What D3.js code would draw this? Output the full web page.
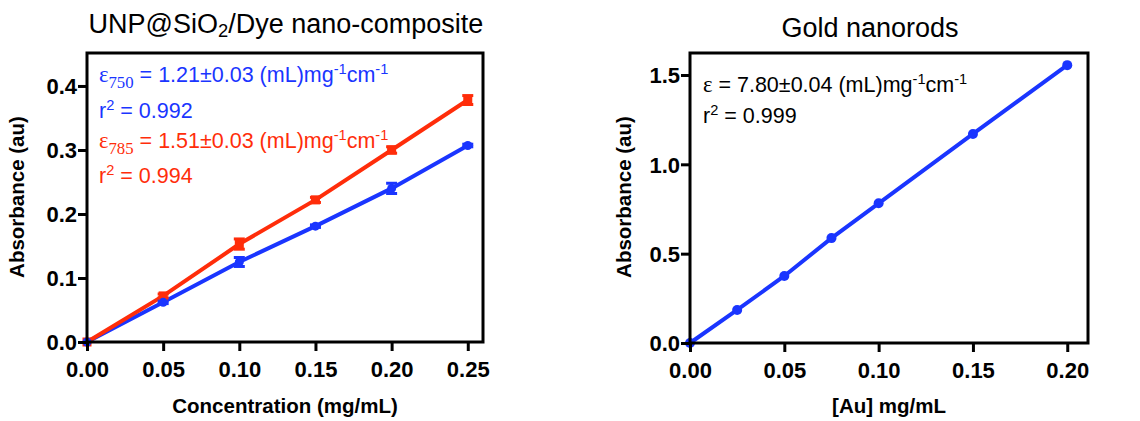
<!DOCTYPE html>
<html>
<head>
<meta charset="utf-8">
<script src="https://cdn.jsdelivr.net/npm/d3@7"></script>
<style>
  body { margin: 0; background: #fff; }
  svg { font-family: "Liberation Sans", Arial, sans-serif; }
</style>
</head>
<body>
<svg id="chart" width="1140" height="421"></svg>
<script>
// left panel data
let concX = [0, 0.05, 0.10, 0.15, 0.20, 0.25];
let abs750 = [0, 0.062, 0.125, 0.181, 0.240, 0.307];
let err750 = [0, 0.002, 0.007, 0.002, 0.008, 0.002];
let abs785 = [0, 0.072, 0.153, 0.222, 0.300, 0.378];
let err785 = [0, 0.003, 0.008, 0.004, 0.005, 0.007];
let leftXTicks = [0, 0.05, 0.10, 0.15, 0.20, 0.25];
let leftYTicks = [0, 0.1, 0.2, 0.3, 0.4];

// right panel data
let auX = [0, 0.025, 0.05, 0.075, 0.10, 0.15, 0.20];
let auAbs = [0, 0.185, 0.375, 0.587, 0.782, 1.170, 1.555];
let rightXTicks = [0, 0.05, 0.10, 0.15, 0.20];
let rightYTicks = [0, 0.5, 1.0, 1.5];

let blue = "#1a35ff";
let red = "#ff2d0a";

let svg = d3.select("#chart");

function drawFrame(g, x, y, xTicks, yTicks, xFmt, yFmt) {
    let [x0, x1] = x.range();
    let [y0, y1] = y.range();

    //x axis
    g.append("g")
        .attr("transform", "translate(0," + y0 + ")")
        .call(d3.axisBottom(x).tickValues(xTicks).tickFormat(xFmt).tickSize(9).tickSizeOuter(0))
        .call(a => a.select(".domain").remove())
        .call(a => a.selectAll("line").attr("stroke-width", 3))
        .call(a => a.selectAll("text").attr("dy", "1.05em").style("font-size", "22px").style("font-weight", "bold").attr("fill", "#000").attr("font-family", null));

    //y axis
    g.append("g")
        .attr("transform", "translate(" + x0 + ",0)")
        .call(d3.axisLeft(y).tickValues(yTicks).tickFormat(yFmt).tickSize(9).tickSizeOuter(0))
        .call(a => a.select(".domain").remove())
        .call(a => a.selectAll("line").attr("stroke-width", 3))
        .call(a => a.selectAll("text").attr("x", -10).attr("dy", "0.36em").style("font-size", "22px").style("font-weight", "bold").attr("fill", "#000").attr("font-family", null));

    g.append("rect")
        .attr("x", x0).attr("y", y1)
        .attr("width", x1 - x0).attr("height", y0 - y1)
        .attr("fill", "none").attr("stroke", "#000").attr("stroke-width", 3);
}

function superText(t, parts, size) {
    // parts: [text, kind] kind: n normal, sub, sup, serif, serifsub
    let cur = 0;
    for (let [s, kind] of parts) {
        let ts = t.append("tspan").text(s).style("font-size", size + "px");
        let shift = 0;
        if (kind == "sup") { shift = -8; ts.style("font-size", (size * 0.68) + "px"); }
        else if (kind == "sub") { shift = 4; ts.style("font-size", (size * 0.68) + "px"); }
        else if (kind == "serif") { ts.attr("font-family", "Liberation Serif, Times New Roman, serif").style("font-size", (size * 1.05) + "px"); }
        else if (kind == "serifsub") { shift = 6; ts.attr("font-family", "Liberation Serif, Times New Roman, serif").style("font-size", (size * 0.78) + "px"); }
        ts.attr("dy", shift - cur);
        cur = shift;
    }
}

// ---------- left panel ----------
let xL = d3.scaleLinear().domain([0, 0.26]).range([87, 483]);
let yL = d3.scaleLinear().domain([0, 0.4515]).range([342, 53]);
let gL = svg.append("g");

let lineL = d3.line().x((d, i) => xL(concX[i])).y(d => yL(d));

gL.append("path").datum(abs750)
    .attr("d", lineL).attr("fill", "none").attr("stroke", blue).attr("stroke-width", 4);
gL.append("path").datum(abs785)
    .attr("d", lineL).attr("fill", "none").attr("stroke", red).attr("stroke-width", 4);

// error bars
function errorBars(g, xs, ys, es, x, y, color) {
    let eb = g.append("g").attr("stroke", color).attr("stroke-width", 3);
    xs.forEach((xv, i) => {
        if (es[i] <= 0) return;
        let cx = x(xv);
        eb.append("line").attr("x1", cx).attr("x2", cx).attr("y1", y(ys[i] - es[i])).attr("y2", y(ys[i] + es[i]));
        eb.append("line").attr("x1", cx - 5.5).attr("x2", cx + 5.5).attr("y1", y(ys[i] - es[i])).attr("y2", y(ys[i] - es[i]));
        eb.append("line").attr("x1", cx - 5.5).attr("x2", cx + 5.5).attr("y1", y(ys[i] + es[i])).attr("y2", y(ys[i] + es[i]));
    });
}
errorBars(gL, concX, abs785, err785, xL, yL, red);
errorBars(gL, concX, abs750, err750, xL, yL, blue);

gL.selectAll("rect.red").data(abs785).enter().append("rect")
    .attr("class", "red")
    .attr("x", (d, i) => xL(concX[i]) - 4.5).attr("y", d => yL(d) - 4.5)
    .attr("width", 9).attr("height", 9).attr("fill", red);
gL.selectAll("circle.blue").data(abs750).enter().append("circle")
    .attr("class", "blue")
    .attr("cx", (d, i) => xL(concX[i])).attr("cy", d => yL(d))
    .attr("r", 4.5).attr("fill", blue);

drawFrame(gL, xL, yL, leftXTicks, leftYTicks, d3.format(".2f"), d3.format(".1f"));

let tL = gL.append("text").attr("x", 286).attr("y", 33).attr("text-anchor", "middle").style("font-size", "27px");
superText(tL, [["UNP@SiO", "n"], ["2", "sub"], ["/Dye nano-composite", "n"]], 27);

gL.append("text").attr("x", 285).attr("y", 413).attr("text-anchor", "middle")
    .style("font-size", "20.5px").style("font-weight", "bold").text("Concentration (mg/mL)");
gL.append("text").attr("transform", "translate(24,197) rotate(-90)").attr("text-anchor", "middle")
    .style("font-size", "20.5px").style("font-weight", "bold").text("Absorbance (au)");

let annL = [
    {y: 82, color: blue, parts: [["\u03b5", "serif"], ["750", "serifsub"], [" = 1.21\u00b10.03 (mL)mg", "n"], ["-1", "sup"], ["cm", "n"], ["-1", "sup"]]},
    {y: 118, color: blue, parts: [["r", "n"], ["2", "sup"], [" = 0.992", "n"]]},
    {y: 148, color: red, parts: [["\u03b5", "serif"], ["785", "serifsub"], [" = 1.51\u00b10.03 (mL)mg", "n"], ["-1", "sup"], ["cm", "n"], ["-1", "sup"]]},
    {y: 183, color: red, parts: [["r", "n"], ["2", "sup"], [" = 0.994", "n"]]}
];
for (let a of annL) {
    let t = gL.append("text").attr("x", 99).attr("y", a.y).attr("fill", a.color).style("font-size", "21.5px");
    superText(t, a.parts, 21.5);
}

// ---------- right panel ----------
let xR = d3.scaleLinear().domain([0, 0.211]).range([690, 1088]);
let yR = d3.scaleLinear().domain([0, 1.623]).range([343, 53]);
let gR = svg.append("g");

let lineR = d3.line().x((d, i) => xR(auX[i])).y(d => yR(d));
gR.append("path").datum(auAbs)
    .attr("d", lineR).attr("fill", "none").attr("stroke", blue).attr("stroke-width", 4);
gR.selectAll("circle").data(auAbs).enter().append("circle")
    .attr("cx", (d, i) => xR(auX[i])).attr("cy", d => yR(d))
    .attr("r", 5).attr("fill", blue);

drawFrame(gR, xR, yR, rightXTicks, rightYTicks, d3.format(".2f"), d3.format(".1f"));

gR.append("text").attr("x", 870).attr("y", 37).attr("text-anchor", "middle")
    .style("font-size", "27px").text("Gold nanorods");
gR.append("text").attr("x", 889).attr("y", 413).attr("text-anchor", "middle")
    .style("font-size", "20.5px").style("font-weight", "bold").text("[Au] mg/mL");
gR.append("text").attr("transform", "translate(631,197) rotate(-90)").attr("text-anchor", "middle")
    .style("font-size", "20.5px").style("font-weight", "bold").text("Absorbance (au)");

let annR = [
    {y: 92, parts: [["\u03b5", "serif"], [" = 7.80\u00b10.04 (mL)mg", "n"], ["-1", "sup"], ["cm", "n"], ["-1", "sup"]]},
    {y: 123, parts: [["r", "n"], ["2", "sup"], [" = 0.999", "n"]]}
];
for (let a of annR) {
    let t = gR.append("text").attr("x", 703).attr("y", a.y).attr("fill", "#000").style("font-size", "21.5px");
    superText(t, a.parts, 21.5);
}
</script>
</body>
</html>
